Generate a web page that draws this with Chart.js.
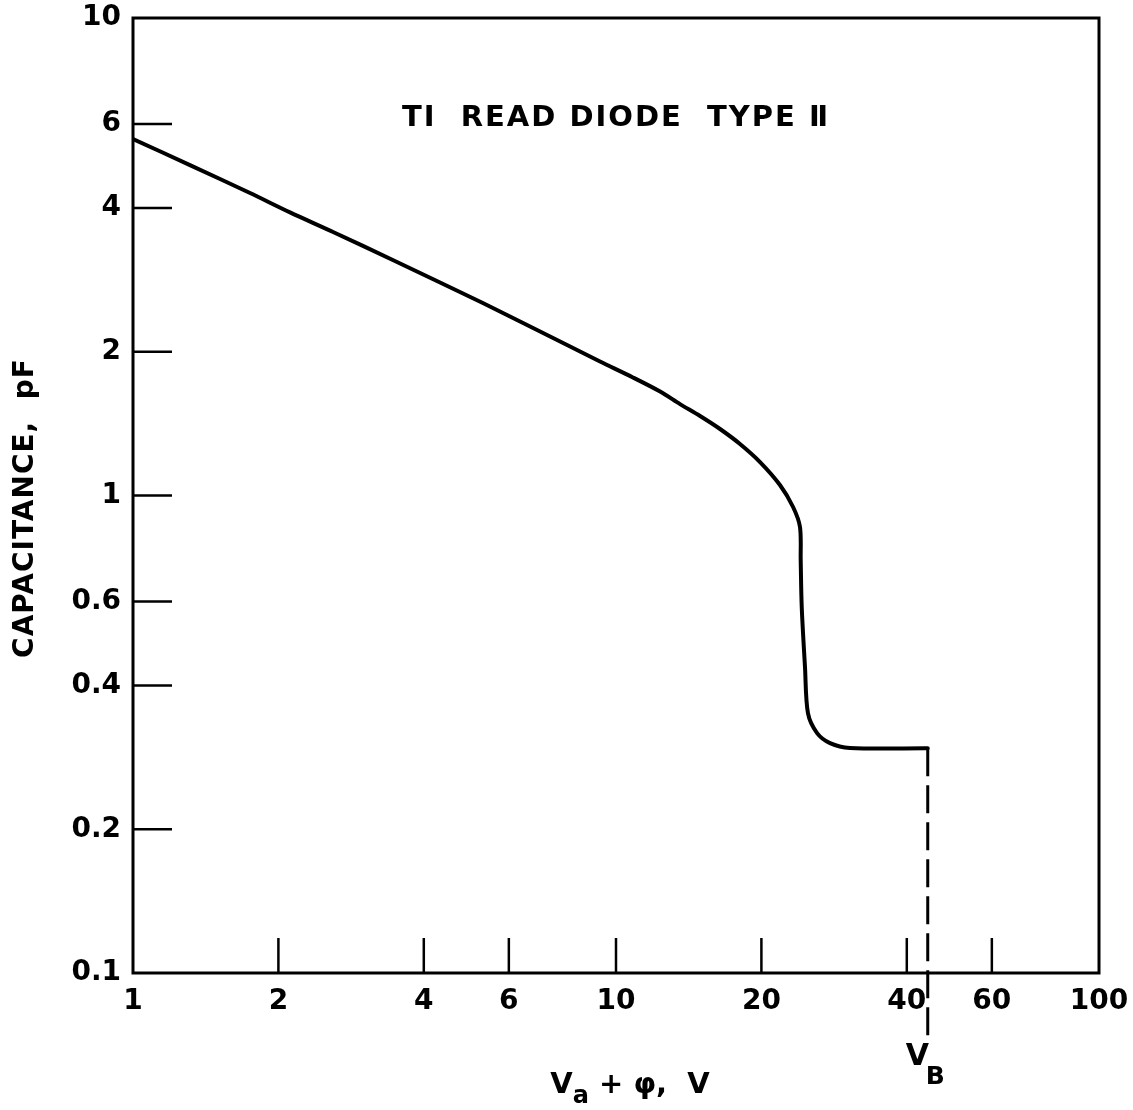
<!DOCTYPE html>
<html><head><meta charset="utf-8">
<script src="https://cdn.jsdelivr.net/npm/chart.js@4/dist/chart.umd.min.js"></script>
<style>html,body{margin:0;padding:0;background:#fff}#wrap{width:1133px;height:1110px}</style>
</head><body><div id="wrap"><canvas id="c" width="1133" height="1110"></canvas></div>
<script>
// Data (V_a + phi in volts, capacitance in pF)
const voltage     = [1.0, 1.312, 1.747, 2.114, 2.595, 3.45, 4.322, 5.30, 6.482, 7.92, 9.266, 10.84, 12.34, 13.57, 14.93, 16.42, 18.06, 19.87, 21.85, 23.26, 24.04, 24.12, 24.24, 24.62, 24.97, 26.08, 27.74, 30.51, 44.2];
const capacitance = [5.58, 4.92, 4.30, 3.916, 3.564, 3.113, 2.793, 2.530, 2.287, 2.067, 1.908, 1.767, 1.651, 1.554, 1.467, 1.378, 1.282, 1.175, 1.052, 0.946, 0.859, 0.733, 0.584, 0.437, 0.350, 0.318, 0.303, 0.296, 0.2955];
const breakdownVoltage = 44.2;
const breakdownLine = [0.2955, 0.0735];
const xTicks = [1, 2, 4, 6, 10, 20, 40, 60, 100];
const yTicks = [0.1, 0.2, 0.4, 0.6, 1, 2, 4, 6, 10];
const xTickLabels = ['1', '2', '4', '6', '10', '20', '40', '60', '100'];
const yTickLabels = ['0.1', '0.2', '0.4', '0.6', '1', '2', '4', '6', '10'];
const chartTitle = 'TI  READ DIODE  TYPE Ⅱ';
const yTitle = 'CAPACITANCE,  pF';

const FONT = '"DejaVu Sans", sans-serif';

const framePlugin = {
  id: 'frame',
  afterDraw(chart) {
    const ctx = chart.ctx, a = chart.chartArea;
    const xs = chart.scales.x, ys = chart.scales.y;
    ctx.save();
    ctx.strokeStyle = '#000';
    ctx.lineWidth = 3;
    ctx.strokeRect(a.left, a.top, a.right - a.left, a.bottom - a.top);
    ctx.lineWidth = 2.5;
    xTicks.slice(1, -1).forEach(v => {
      const px = xs.getPixelForValue(v);
      ctx.beginPath(); ctx.moveTo(px, a.bottom); ctx.lineTo(px, a.bottom - 35); ctx.stroke();
    });
    yTicks.slice(1, -1).forEach(v => {
      const py = ys.getPixelForValue(v);
      ctx.beginPath(); ctx.moveTo(a.left, py); ctx.lineTo(a.left + 39, py); ctx.stroke();
    });
    ctx.fillStyle = '#000';
    // title
    ctx.font = 'bold 29px ' + FONT;
    ctx.letterSpacing = '2px';
    ctx.textAlign = 'center'; ctx.textBaseline = 'middle';
    ctx.fillText(chartTitle, 616, 118);
    ctx.letterSpacing = '0px';
    // y title
    ctx.save();
    ctx.translate(26, 508);
    ctx.rotate(-Math.PI / 2);
    ctx.font = 'bold 28px ' + FONT;
    ctx.letterSpacing = '1px';
    ctx.fillText(yTitle, 0, 0);
    ctx.restore();
    // x title: V_a + φ,  V
    ctx.textAlign = 'left'; ctx.textBaseline = 'alphabetic';
    const big = 'bold 29px ' + FONT, small = 'bold 24px ' + FONT;
    const parts = [['V', big, 0], ['a', small, 10], [' + φ,  V', big, 0]];
    let total = 0;
    parts.forEach(p => { ctx.font = p[1]; total += ctx.measureText(p[0]).width; });
    let x = 630 - total / 2;
    parts.forEach(p => { ctx.font = p[1]; ctx.fillText(p[0], x, 1093 + p[2]); x += ctx.measureText(p[0]).width; });
    // V_B label
    const vbx = xs.getPixelForValue(breakdownVoltage);
    ctx.font = 'bold 30px ' + FONT;
    ctx.fillText('V', vbx - 22, 1065);
    ctx.font = 'bold 25px ' + FONT;
    ctx.fillText('B', vbx - 2, 1084);
    ctx.restore();
  }
};

new Chart(document.getElementById('c'), {
  type: 'line',
  data: {
    datasets: [
      {
        data: voltage.map((v, i) => ({ x: v, y: capacitance[i] })),
        borderColor: '#000', borderWidth: 4, pointRadius: 0,
        tension: 0.3, fill: false, borderJoinStyle: 'round', borderCapStyle: 'round'
      },
      {
        data: breakdownLine.map(c => ({ x: breakdownVoltage, y: c })),
        borderColor: '#000', borderWidth: 3, pointRadius: 0,
        borderDash: [28, 9], clip: false, fill: false
      }
    ]
  },
  options: {
    responsive: false, animation: false, devicePixelRatio: 1,
    layout: { padding: { top: 18, right: 34, left: 0, bottom: 0 } },
    plugins: { legend: { display: false }, tooltip: { enabled: false }, title: { display: false } },
    scales: {
      x: {
        type: 'logarithmic', min: 1, max: 100,
        afterBuildTicks: s => { s.ticks = xTicks.map(v => ({ value: v })); },
        afterFit: s => { s.height = 137; s.paddingLeft = 0; s.paddingRight = 0; },
        grid: { drawOnChartArea: false, drawTicks: false },
        border: { display: false },
        ticks: {
          autoSkip: false, maxRotation: 0, color: '#000', padding: 12,
          font: { family: FONT, size: 28, weight: 'bold' },
          callback: v => { const i = xTicks.indexOf(v); return i >= 0 ? xTickLabels[i] : ''; }
        }
      },
      y: {
        type: 'logarithmic', min: 0.1, max: 10,
        afterBuildTicks: s => { s.ticks = yTicks.map(v => ({ value: v })); },
        afterFit: s => { s.width = 133; s.paddingTop = 0; s.paddingBottom = 0; },
        grid: { drawOnChartArea: false, drawTicks: false },
        border: { display: false },
        ticks: {
          autoSkip: false, color: '#000', padding: 12,
          font: { family: FONT, size: 28, weight: 'bold' },
          callback: v => { const i = yTicks.indexOf(v); return i >= 0 ? yTickLabels[i] : ''; }
        }
      }
    }
  },
  plugins: [framePlugin]
});
</script>
</body></html>
